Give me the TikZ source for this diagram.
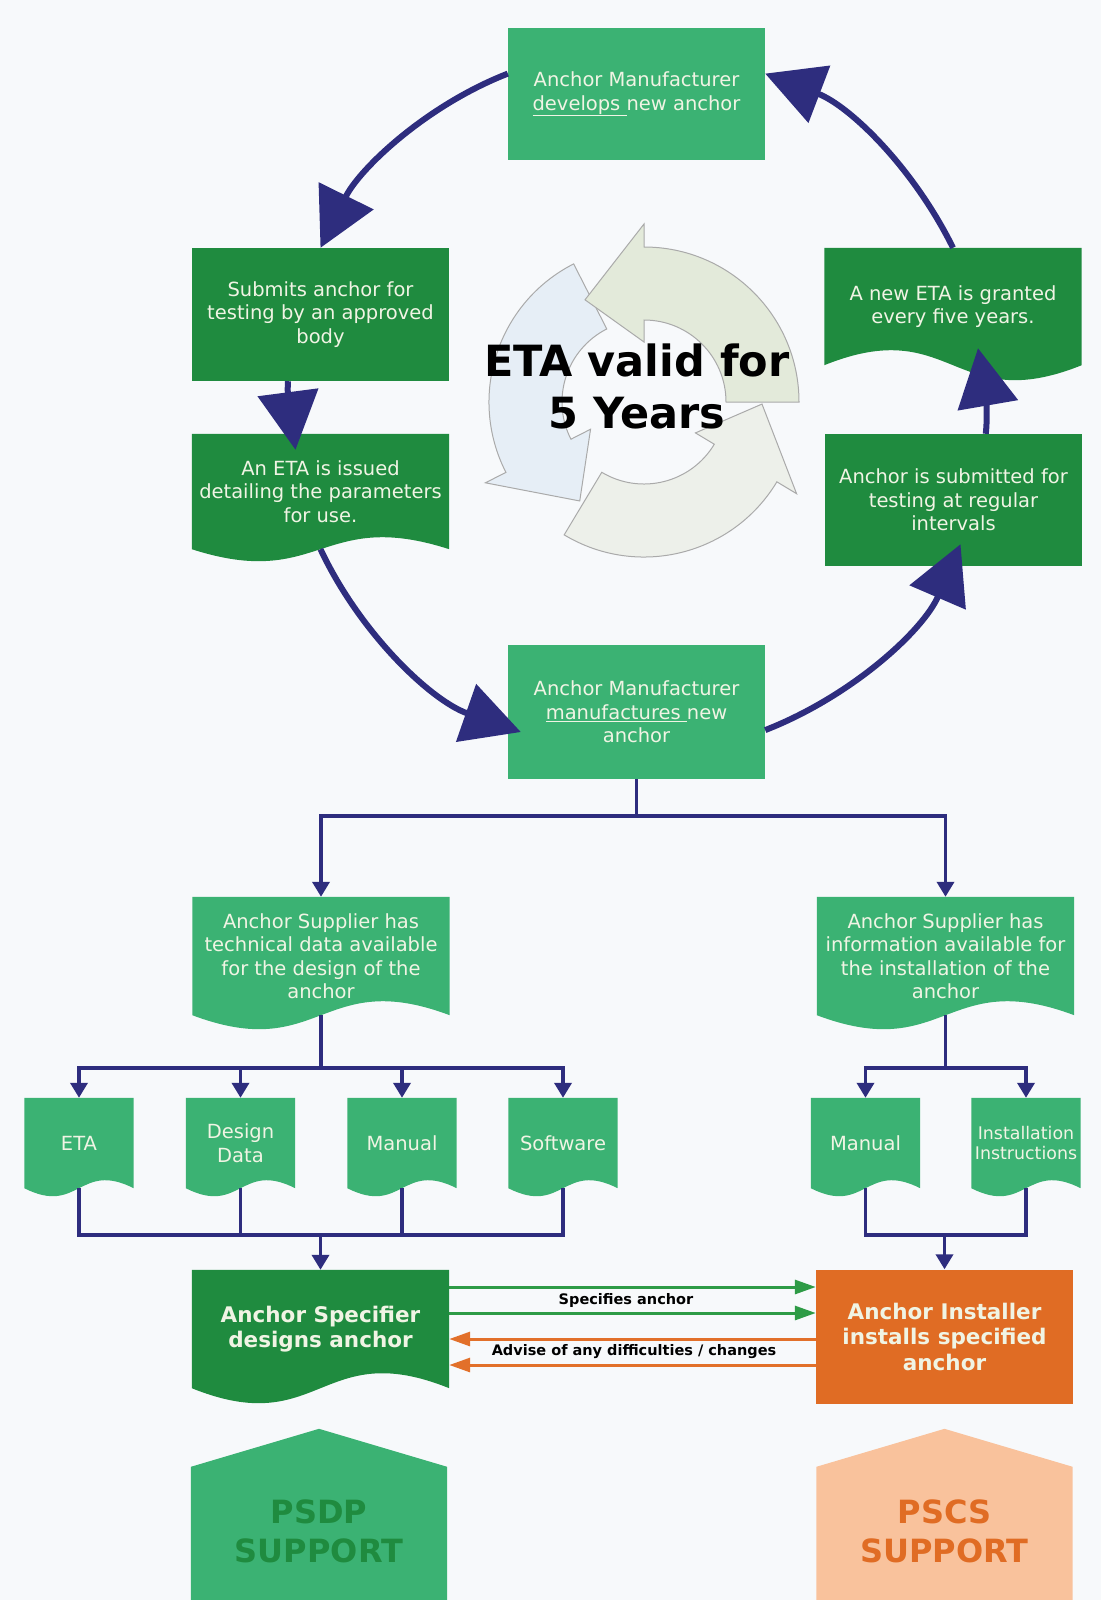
\documentclass[tikz,border=0pt]{standalone}
\usepackage{fontspec}
\setmainfont{DejaVu Sans}
\usetikzlibrary{arrows.meta,calc,backgrounds}

\definecolor{midgreen}{RGB}{59,178,115}
\definecolor{darkgreen}{RGB}{31,139,63}
\definecolor{navy}{RGB}{46,45,126}
\definecolor{instorange}{RGB}{224,108,36}
\definecolor{paleorange}{RGB}{249,194,156}
\definecolor{boxtext}{RGB}{240,244,228}
\definecolor{pagebg}{RGB}{247,249,251}
\definecolor{ringblue}{RGB}{230,238,246}
\definecolor{ringgreen}{RGB}{227,234,218}
\definecolor{ringgrey}{RGB}{237,240,234}
\definecolor{ringline}{RGB}{170,170,170}
\definecolor{arrowgreen}{RGB}{46,155,70}
\definecolor{arroworange}{RGB}{226,112,42}

% document outline with a wavy foot, built on the anchors of a node
\newcommand{\docshape}[2]{(#1.north west) -- (#1.north east) -- (#1.south east)
  .. controls ($(#1.south)+(0,3.46*#2)$) and ($(#1.south)+(0,-3.46*#2)$) .. (#1.south west) -- cycle}
\newcommand{\docflipshape}[2]{(#1.north west) -- (#1.north east) -- (#1.south east)
  .. controls ($(#1.south)+(0,-3.46*#2)$) and ($(#1.south)+(0,3.46*#2)$) .. (#1.south west) -- cycle}
\newcommand{\houseshape}[1]{(#1.south west) -- ($(#1.north west)+(0,-38)$) -- (#1.north)
  -- ($(#1.north east)+(0,-38)$) -- (#1.south east) -- cycle}

\tikzset{
  boxtxt/.style={text=boxtext, font=\fontsize{19.5}{23.5}\selectfont, align=center, inner sep=0pt},
  rectbox/.style={boxtxt, fill=#1, minimum width=257pt, minimum height=133pt},
  docbox/.style={boxtxt, minimum width=257pt, minimum height=117pt},
  smalldoc/.style={boxtxt, minimum width=109pt, minimum height=90pt},
  boldbox/.style={font=\fontsize{21.5}{25.5}\selectfont\bfseries},
  housebox/.style={text=#1, minimum width=256pt, minimum height=205pt, align=center,
    font=\fontsize{32}{39}\selectfont\bfseries},
  validtxt/.style={font=\fontsize{43}{52}\selectfont\bfseries, align=center},
  lbltxt/.style={font=\fontsize{14.5}{17}\selectfont\bfseries, inner sep=1pt},
  ringarrow/.style={draw=ringline, line width=1pt},
  cyclearrow/.style={draw=navy, line width=6pt, -{Triangle[length=58pt,width=60pt]}},
  treeline/.style={draw=navy, line width=3.6pt},
  treearrow/.style={treeline, -{Triangle[length=15pt,width=17pt]}},
  specarrow/.style={draw=arrowgreen, line width=3pt, -{Triangle[length=21pt,width=14pt]}},
  advarrow/.style={draw=arroworange, line width=3pt, -{Triangle[length=21pt,width=14pt]}}
}

\begin{document}
\begin{tikzpicture}[x=1pt,y=1pt]
\useasboundingbox (0,0) rectangle (1101,-1600);

% faint cycle in the middle
\begin{scope}[shift={(644,-402)}]
\foreach \a/\c in {329/ringgrey,207/ringblue,90/ringgreen}
  \filldraw[ringarrow, fill=\c] (\a-90:155) arc[start angle=\a-90, end angle=\a, radius=155]
    -- (\a:178) -- (\a+30:118) -- (\a:60) -- (\a:82)
    arc[start angle=\a, end angle=\a-90, radius=82] -- cycle;
\end{scope}
\node[validtxt] (valid) at (637,-386) {ETA valid for\\5 Years};

% cycle boxes
\node[rectbox=midgreen, minimum height=132pt] (dev) at (636.5,-94) {Anchor Manufacturer\\\underline{develops\ }new anchor};
\node[rectbox=darkgreen] (sub) at (320.5,-314.5) {Submits anchor for\\testing by an approved\\body};
\node[docbox, minimum height=115pt] (eta) at (320.5,-491.5) {An ETA is issued\\detailing the parameters\\for use.};
\node[docbox] (gra) at (953,-306.5) {A new ETA is granted\\every five years.};
\node[rectbox=darkgreen, minimum height=132pt] (sta) at (953.5,-500) {Anchor is submitted for\\testing at regular\\intervals};
\node[rectbox=midgreen, minimum height=134pt] (mfr) at (636.5,-712) {Anchor Manufacturer\\\underline{manufactures\ }new\\anchor};

% supply side
\node[docbox, minimum height=118pt] (supL) at (321,-956) {Anchor Supplier has\\technical data available\\for the design of the\\anchor};
\node[docbox, minimum height=118pt] (supR) at (945.5,-956) {Anchor Supplier has\\information available for\\the installation of the\\anchor};
\node[smalldoc] (dEta) at (79,-1143) {ETA};
\node[smalldoc] (dDes) at (240.5,-1143) {Design\\Data};
\node[smalldoc] (dMan) at (402,-1143) {Manual};
\node[smalldoc] (dSoft) at (563,-1143) {Software};
\node[smalldoc] (dMan2) at (865.5,-1143) {Manual};
\node[smalldoc, font=\fontsize{17.4}{20.5}\selectfont] (dInst) at (1026,-1143) {Installation\\Instructions};

\node[docbox, boldbox, minimum height=118pt] (spec) at (320.5,-1329) {Anchor Specifier\\designs anchor};
\node[rectbox=instorange, boldbox, minimum height=134pt] (ins) at (944.5,-1336.5) {Anchor Installer\\installs specified\\anchor};
\node[lbltxt] (lspec) at (626,-1300) {Specifies anchor};
\node[lbltxt] (ladv) at (634,-1351.5) {Advise of any difficulties / changes};

\node[housebox=darkgreen] (psdp) at (319,-1531.5) {PSDP\\SUPPORT};
\node[housebox=instorange] (pscs) at (944.5,-1531.5) {PSCS\\SUPPORT};

\begin{scope}[on background layer]
\fill[pagebg] (0,0) rectangle (1101,-1600);
\fill[darkgreen] \docshape{eta}{12};
\fill[darkgreen] \docflipshape{gra}{15};
\fill[midgreen] \docshape{supL}{14};
\fill[midgreen] \docshape{supR}{14};
\foreach \n in {dEta,dDes,dMan,dSoft,dMan2,dInst}
  \fill[midgreen] \docshape{\n}{8};
\fill[darkgreen] \docshape{spec}{15};
\fill[midgreen] \houseshape{psdp};
\fill[paleorange] \houseshape{pscs};

% tree of information
\coordinate (topbar) at (636.5,-816);
\draw[treearrow] (mfr.south) -- (topbar) -| (supL.north);
\draw[treearrow] (mfr.south) -- (topbar) -| (supR.north);
\coordinate (barL) at (321,-1068);
\foreach \n in {dEta,dDes,dMan,dSoft}
  \draw[treearrow] (supL.south) -- (barL) -| (\n.north);
\coordinate (barR) at (945.5,-1068);
\foreach \n in {dMan2,dInst}
  \draw[treearrow] (supR.south) -- (barR) -| (\n.north);
\coordinate (joinL) at (320.5,-1235);
\foreach \n in {dEta,dDes,dMan,dSoft}
  \draw[treeline] (\n.south) |- (joinL);
\draw[treearrow] (joinL) -- (spec.north);
\coordinate (joinR) at (944.5,-1235);
\foreach \n in {dMan2,dInst}
  \draw[treeline] (\n.south) |- (joinR);
\draw[treearrow] (joinR) -- (ins.north);
\end{scope}

% the five year cycle
\draw[cyclearrow] (dev.171.6) .. controls +(-82,-32) and +(39,79) .. (sub.north);
\draw[cyclearrow] (sub.244) .. controls +(-1.5,-23) and +(-3,23) .. ($(eta.north)+(-25,-16)$);
\draw[cyclearrow] (eta.south) .. controls +(40,-85) and +(-89,31) .. ($(mfr.west)+(13,-20)$);
\draw[cyclearrow] (mfr.-8) .. controls +(87,34) and +(-37,-86) .. ($(sta.south)+(7,22)$);
\draw[cyclearrow] (sta.64) .. controls +(3,29) and +(5,-29) .. ($(gra.south)+(25,17)$);
\draw[cyclearrow] (gra.north) .. controls +(-40,81) and +(84,-32) .. (dev.9.7);

% specifier and installer
\foreach \y in {-1287,-1313}
  \draw[specarrow] (spec.east |- 0,\y) -- (ins.west |- 0,\y);
\foreach \y in {-1339,-1365}
  \draw[advarrow] (ins.west |- 0,\y) -- (spec.east |- 0,\y);
\end{tikzpicture}
\end{document}
